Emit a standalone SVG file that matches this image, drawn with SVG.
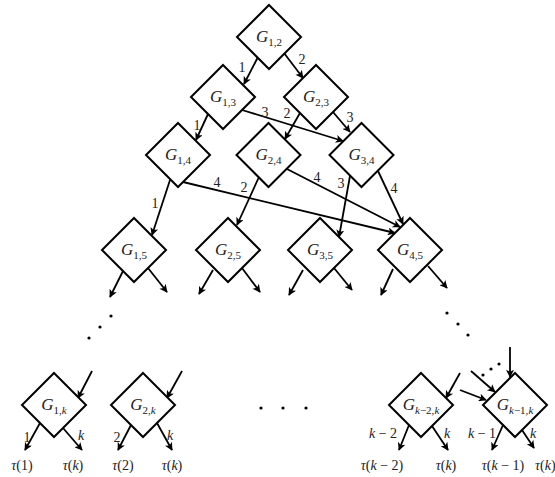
<svg xmlns="http://www.w3.org/2000/svg" width="555" height="477" viewBox="0 0 555 477">
<style>
.d{fill:#fff;stroke:#000;stroke-width:2}
.e{fill:none;stroke:#000;stroke-width:1.8;marker-end:url(#ah)}
text{font-family:"Liberation Serif","DejaVu Serif",serif;fill:#222}
.n{font-size:17px;text-anchor:middle}
.s{font-size:11px}
.i{font-style:italic}
.l{font-size:14px;text-anchor:middle}
.dot{fill:#000}
</style>
<defs>
<marker id="ah" viewBox="0 0 10 10" refX="9" refY="5" markerWidth="11" markerHeight="8" markerUnits="userSpaceOnUse" orient="auto">
<path d="M0,0 L10,5 L0,10 L2.5,5 z" fill="#000"/>
</marker>
</defs>
<g id="connectors">
<path class="e" d="M258,57 L244,84"/>
<path class="e" d="M284,53 L303,78"/>
<path class="e" d="M208,114 L196,140"/>
<path class="e" d="M242,110 L343,141"/>
<path class="e" d="M300,113 L285,139"/>
<path class="e" d="M333,112 L350,132"/>
<path class="e" d="M170,180 L152,235"/>
<path class="e" d="M183,182 L395,233"/>
<path class="e" d="M259,177 L237,225"/>
<path class="e" d="M287,169 L400,227"/>
<path class="e" d="M350,176 L339,237"/>
<path class="e" d="M378,171 L403,224"/>
<path class="e" d="M123,271 L110,297"/>
<path class="e" d="M148,268 L167,292"/>
<path class="e" d="M213,270 L199,294"/>
<path class="e" d="M242,268 L260,292"/>
<path class="e" d="M303,270 L289,295"/>
<path class="e" d="M334,268 L352,290"/>
<path class="e" d="M393,269 L381,295"/>
<path class="e" d="M428,266 L447,288"/>
<path class="e" d="M92,371 L78,398"/>
<path class="e" d="M40,423 L25,450"/>
<path class="e" d="M63,428 L82,450"/>
<path class="e" d="M182,371 L167,398"/>
<path class="e" d="M131,425 L118,450"/>
<path class="e" d="M157,423 L172,450"/>
<path class="e" d="M460,373 L446,398"/>
<path class="e" d="M409,425 L399,450"/>
<path class="e" d="M432,426 L448,450"/>
<path class="e" d="M510,347 L510,377"/>
<path class="e" d="M471,371 L495,392"/>
<path class="e" d="M460,390 L486,400"/>
<path class="e" d="M503,425 L492,450"/>
<path class="e" d="M522,430 L534,448"/>
</g>
<g id="edge-labels">
<text class="l" x="242" y="72">1</text>
<text class="l" x="302" y="64">2</text>
<text class="l" x="197" y="130">1</text>
<text class="l" x="265" y="117">3</text>
<text class="l" x="287" y="118">2</text>
<text class="l" x="350" y="122">3</text>
<text class="l" x="155" y="208">1</text>
<text class="l" x="217" y="187">4</text>
<text class="l" x="244" y="192">2</text>
<text class="l" x="317" y="182">4</text>
<text class="l" x="341" y="188">3</text>
<text class="l" x="394" y="193">4</text>
<text class="l" x="27" y="442">1</text>
<text class="l i" x="81" y="440">k</text>
<text class="l" x="117" y="442">2</text>
<text class="l i" x="170" y="440">k</text>
<text class="l" x="383" y="438"><tspan class="i">k</tspan> − 2</text>
<text class="l i" x="447" y="438">k</text>
<text class="l" x="482" y="438"><tspan class="i">k</tspan> − 1</text>
<text class="l i" x="533" y="438">k</text>
<text class="l" x="22" y="470"><tspan class="i">τ</tspan>(1)</text>
<text class="l" x="73" y="470"><tspan class="i">τ</tspan>(<tspan class="i">k</tspan>)</text>
<text class="l" x="123" y="470"><tspan class="i">τ</tspan>(2)</text>
<text class="l" x="172" y="470"><tspan class="i">τ</tspan>(<tspan class="i">k</tspan>)</text>
<text class="l" x="382" y="470"><tspan class="i">τ</tspan>(<tspan class="i">k</tspan> − 2)</text>
<text class="l" x="446" y="470"><tspan class="i">τ</tspan>(<tspan class="i">k</tspan>)</text>
<text class="l" x="503" y="470"><tspan class="i">τ</tspan>(<tspan class="i">k</tspan> − 1)</text>
<text font-size="14" x="535" y="470"><tspan class="i">τ</tspan>(<tspan class="i">k</tspan>)</text>
</g>
<g id="dots">
<circle class="dot" cx="111" cy="316" r="1.6"/>
<circle class="dot" cx="100" cy="327" r="1.6"/>
<circle class="dot" cx="89" cy="338" r="1.6"/>
<circle class="dot" cx="447" cy="313" r="1.6"/>
<circle class="dot" cx="458" cy="324" r="1.6"/>
<circle class="dot" cx="468" cy="335" r="1.6"/>
<circle class="dot" cx="261" cy="408" r="1.6"/>
<circle class="dot" cx="283" cy="408" r="1.6"/>
<circle class="dot" cx="306" cy="408" r="1.6"/>
<circle class="dot" cx="483" cy="375" r="1.6"/>
<circle class="dot" cx="491" cy="369" r="1.6"/>
<circle class="dot" cx="499" cy="364" r="1.6"/>
</g>
<g id="G12"><path class="d" d="M269,5 L301,37 L269,69 L237,37 Z"/><text class="n" x="269" y="42"><tspan class="i">G</tspan><tspan class="s" dy="4">1,2</tspan></text></g>
<g id="G13"><path class="d" d="M223,65 L255,97 L223,129 L191,97 Z"/><text class="n" x="223" y="102"><tspan class="i">G</tspan><tspan class="s" dy="4">1,3</tspan></text></g>
<g id="G23"><path class="d" d="M316,65 L348,97 L316,129 L284,97 Z"/><text class="n" x="316" y="102"><tspan class="i">G</tspan><tspan class="s" dy="4">2,3</tspan></text></g>
<g id="G14"><path class="d" d="M178,123 L210,155 L178,187 L146,155 Z"/><text class="n" x="178" y="160"><tspan class="i">G</tspan><tspan class="s" dy="4">1,4</tspan></text></g>
<g id="G24"><path class="d" d="M268.5,123 L300.5,155 L268.5,187 L236.5,155 Z"/><text class="n" x="268.5" y="160"><tspan class="i">G</tspan><tspan class="s" dy="4">2,4</tspan></text></g>
<g id="G34"><path class="d" d="M361.5,123 L393.5,155 L361.5,187 L329.5,155 Z"/><text class="n" x="361.5" y="160"><tspan class="i">G</tspan><tspan class="s" dy="4">3,4</tspan></text></g>
<g id="G15"><path class="d" d="M134,218 L166,250 L134,282 L102,250 Z"/><text class="n" x="134" y="255"><tspan class="i">G</tspan><tspan class="s" dy="4">1,5</tspan></text></g>
<g id="G25"><path class="d" d="M228,218 L260,250 L228,282 L196,250 Z"/><text class="n" x="228" y="255"><tspan class="i">G</tspan><tspan class="s" dy="4">2,5</tspan></text></g>
<g id="G35"><path class="d" d="M320,218 L352,250 L320,282 L288,250 Z"/><text class="n" x="320" y="255"><tspan class="i">G</tspan><tspan class="s" dy="4">3,5</tspan></text></g>
<g id="G45"><path class="d" d="M410,218 L442,250 L410,282 L378,250 Z"/><text class="n" x="410" y="255"><tspan class="i">G</tspan><tspan class="s" dy="4">4,5</tspan></text></g>
<g id="G1k"><path class="d" d="M54,373 L86,405 L54,437 L22,405 Z"/><text class="n" x="54" y="410"><tspan class="i">G</tspan><tspan class="s" dy="4">1,<tspan class="i">k</tspan></tspan></text></g>
<g id="G2k"><path class="d" d="M143,373 L175,405 L143,437 L111,405 Z"/><text class="n" x="143" y="410"><tspan class="i">G</tspan><tspan class="s" dy="4">2,<tspan class="i">k</tspan></tspan></text></g>
<g id="Gk-2k"><path class="d" d="M421,373 L453,405 L421,437 L389,405 Z"/><text class="n" x="421" y="410"><tspan class="i">G</tspan><tspan class="s" dy="4"><tspan class="i">k</tspan>−2,<tspan class="i">k</tspan></tspan></text></g>
<g id="Gk-1k"><path class="d" d="M515,373 L547,405 L515,437 L483,405 Z"/><text class="n" x="515" y="410"><tspan class="i">G</tspan><tspan class="s" dy="4"><tspan class="i">k</tspan>−1,<tspan class="i">k</tspan></tspan></text></g>
</svg>
